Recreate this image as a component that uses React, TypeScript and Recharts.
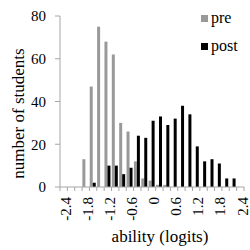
import React from "react";
import { Bar, BarChart, Label, Legend, XAxis, YAxis } from "recharts";

// bin centres (logits) and counts
const bins = ["-2.4", "-2.2", "-2.0", "-1.8", "-1.6", "-1.4", "-1.2", "-1.0", "-0.8", "-0.6", "-0.4", "-0.2", "0", "0.2", "0.4", "0.6", "0.8", "1.0", "1.2", "1.4", "1.6", "1.8", "2.0", "2.2", "2.4"];
const pre = [0, 0, 0, 13, 47, 75, 68, 62, 30, 26, 12, 4, 3, 1, 1, 0, 0, 0, 0, 0, 0, 0, 0, 0, 0];
const post = [0, 0, 0, 0, 2, 0, 10, 10, 6, 9, 24, 23, 31, 33, 29, 32, 38, 34, 19, 12, 13, 11, 4, 4, 0];
const yTicks = [0, 10, 20, 30, 40, 50, 60, 70, 80];

const data = bins.map((bin, i) => ({ bin, pre: pre[i], post: post[i] }));

const W = 250;
const H = 250;
const LEFT = 60;
const RIGHT = 6;
const band = (W - LEFT - RIGHT) / bins.length;
const font = "Liberation Serif, Tinos, Times New Roman, Times, Nimbus Roman, DejaVu Serif, serif";
const axisColor = "#a6a6a6";

function BinTick(props: any) {
  const { x, y, index, payload } = props;
  const y0 = y - 8; // axis line (tickSize 4 + tickMargin 4)
  const left = x - band / 2;
  return (
    <g>
      <line x1={left} x2={left} y1={y0} y2={y0 + 4} stroke={axisColor} />
      {index === bins.length - 1 && <line x1={x + band / 2} x2={x + band / 2} y1={y0} y2={y0 + 4} stroke={axisColor} />}
      {index % 3 === 0 && (
        <text x={x + 2} y={y + 2} transform={`rotate(-90 ${x + 2} ${y + 2})`} textAnchor="end" dy="0.35em" style={{ fontSize: 15, fontFamily: font }} fill="#000">
          {payload.value}
        </text>
      )}
    </g>
  );
}

function LegendBox() {
  const item = (label: string, color: string, top: number) => (
    <div style={{ position: "absolute", left: 0, top, display: "flex", alignItems: "center", whiteSpace: "nowrap" }}>
      <span style={{ width: 7, height: 7, background: color, marginRight: 3 }} />
      <span>{label}</span>
    </div>
  );
  return (
    <div style={{ position: "relative", width: 50, height: 50, fontFamily: font, fontSize: 16, color: "#000" }}>
      {item("pre", "#999999", 0)}
      {item("post", "#000000", 28)}
    </div>
  );
}

export default function App() {
  return (
    <div style={{ position: "absolute", left: 0, top: 0, width: W, height: H, background: "#fff", fontFamily: font }}>
      <BarChart width={W} height={H} data={data} margin={{ top: 16, right: RIGHT, bottom: 0, left: 0 }} barCategoryGap="4%" barGap={0}>
        <XAxis dataKey="bin" interval={0} height={63} tickSize={4} tickMargin={4} tickLine={false} stroke={axisColor} tick={<BinTick />}>
          <Label value="ability (logits)" position="insideBottom" offset={8} dx={8} style={{ fontSize: 17, fontFamily: font }} fill="#000" />
        </XAxis>
        <YAxis domain={[0, 80]} ticks={yTicks} width={LEFT} tickSize={5} tickMargin={9} stroke={axisColor} tick={{ fontSize: 15, fill: "#000", style: { fontFamily: font } }}>
          <Label value="number of students" angle={-90} position="center" dx={-12} dy={12} style={{ fontSize: 17, fontFamily: font }} fill="#000" />
        </YAxis>
        <Legend layout="vertical" align="center" verticalAlign="middle" content={<LegendBox />} wrapperStyle={{ left: 201, top: 9, width: 50 }} />
        <Bar dataKey="pre" fill="#999999" isAnimationActive={false} />
        <Bar dataKey="post" fill="#000000" isAnimationActive={false} />
      </BarChart>
    </div>
  );
}
